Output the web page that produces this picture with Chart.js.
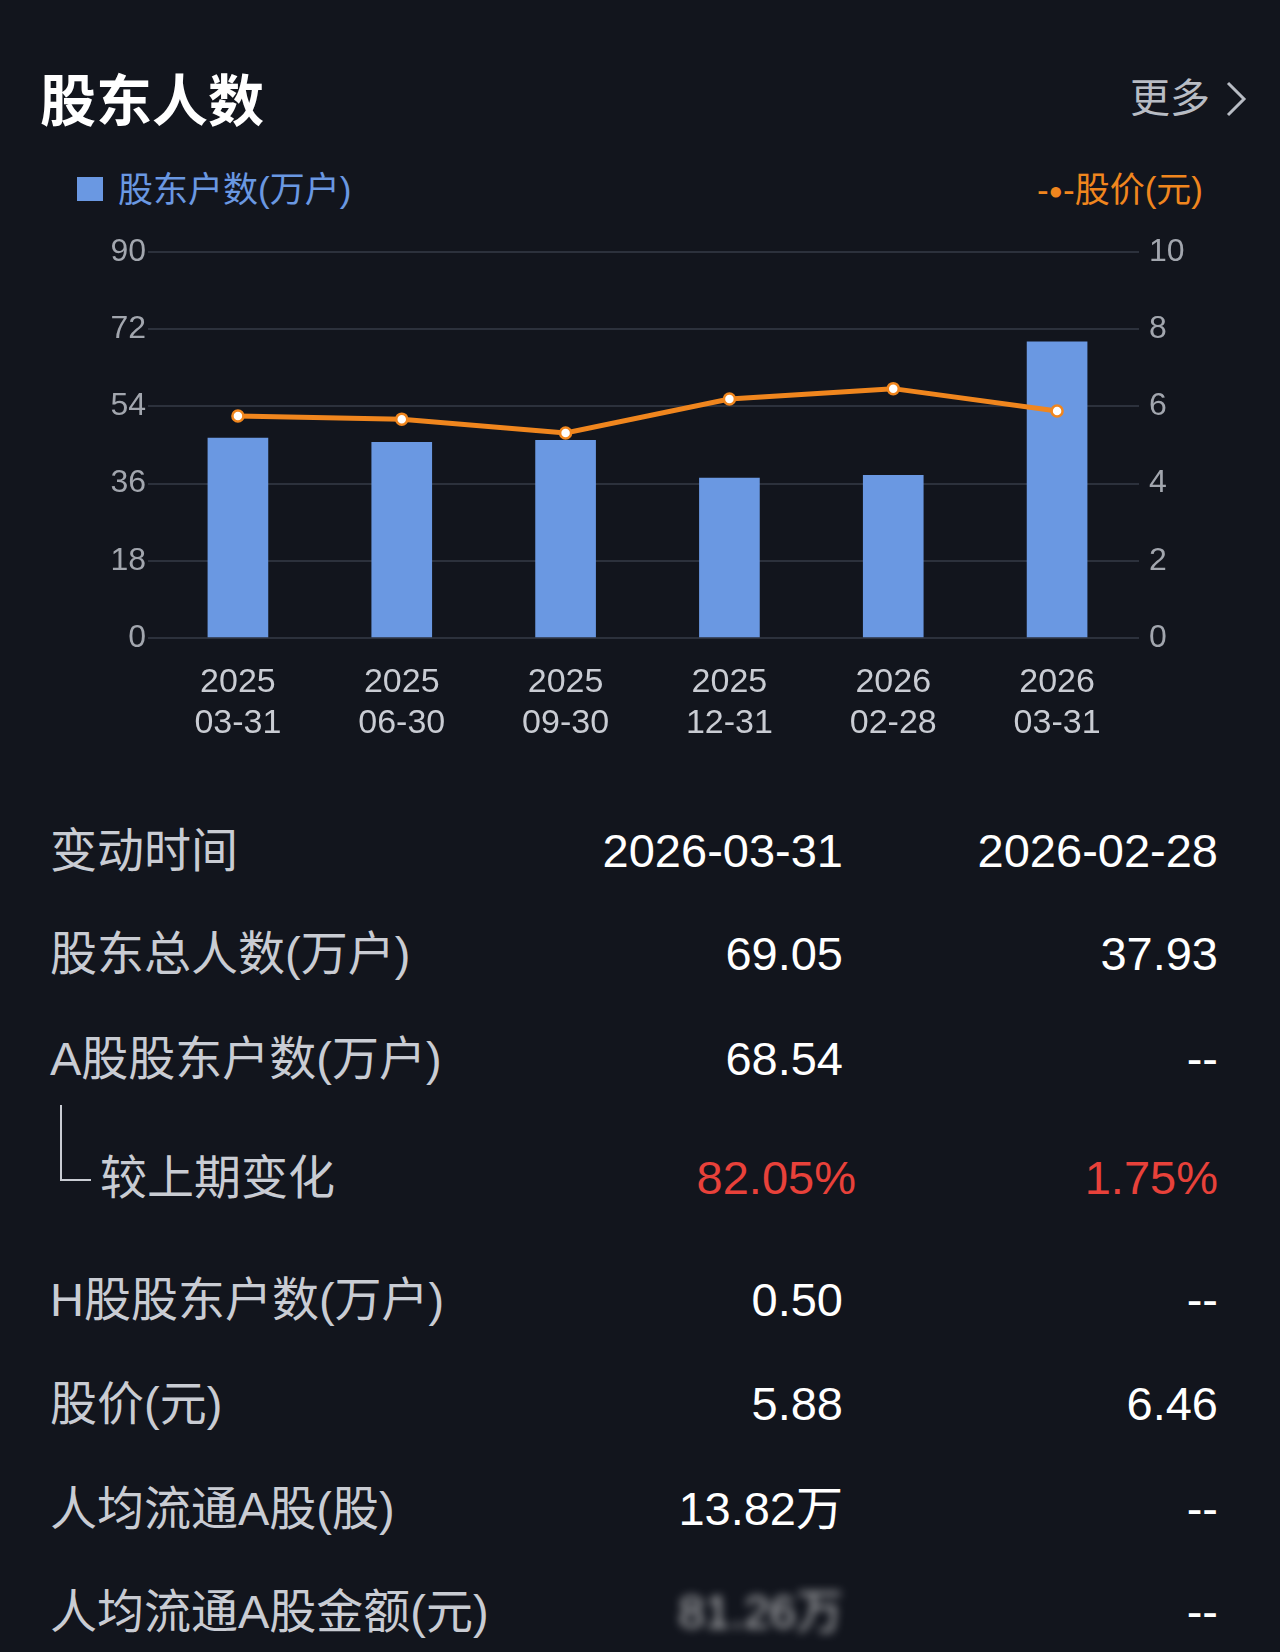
<!DOCTYPE html>
<html><head><meta charset="utf-8">
<script src="https://cdn.jsdelivr.net/npm/chart.js@4"></script>
<style>
body{margin:0;background:#12151d;width:1280px;height:1652px;overflow:hidden;font-family:"Liberation Sans","Noto Sans CJK SC",sans-serif;color:#fff;position:relative}
.t{position:absolute;white-space:nowrap}
.lab{left:50px;color:#c9ccd3;font-size:47px}
.v1{right:437px;font-size:47px;color:#fff;text-align:right}
.v2{right:62px;font-size:47px;color:#fff;text-align:right}
#wrap{position:absolute;left:0;top:230px;width:1280px;height:520px}
</style></head><body>
<div class="t" style="left:40px;top:58px;font-size:56px;font-weight:bold;line-height:78px;font-family:'Noto Sans CJK SC'">股东人数</div>
<div class="t" style="right:70px;top:70px;font-size:40px;color:#b8bcc4;line-height:56px">更多</div>
<svg class="t" style="left:1224px;top:80px" width="24" height="38"><polyline points="4,3 20,19 4,35" fill="none" stroke="#b8bcc4" stroke-width="3"/></svg>
<div class="t" style="left:77px;top:177px;width:26px;height:24px;background:#6a98e2"></div>
<div class="t" style="left:118px;top:166px;font-size:35px;color:#6a98e2;line-height:48px">股东户数(万户)</div>
<div class="t" style="right:77px;top:166px;font-size:35px;color:#f0861e;line-height:48px">-<span style="font-size:24px;vertical-align:3px">●</span>-股价(元)</div>
<div id="wrap"><canvas id="c"></canvas></div>
<div id="tbl"></div>
<svg class="t" style="left:55px;top:1105px" width="40" height="80"><polyline points="6,0 6,75 36,75" fill="none" stroke="#c9ccd3" stroke-width="2"/></svg>
<script>
const categories=[["2025","03-31"],["2025","06-30"],["2025","09-30"],["2025","12-31"],["2026","02-28"],["2026","03-31"]];
const holders=[46.6,45.6,46.1,37.3,37.93,69.05];
const price=[5.75,5.67,5.31,6.19,6.46,5.88];
const leftTicks=[0,18,36,54,72,90];
const rightTicks=[0,2,4,6,8,10];
const rows=[
 ["变动时间","2026-03-31","2026-02-28",""],
 ["股东总人数(万户)","69.05","37.93",""],
 ["A股股东户数(万户)","68.54","--",""],
 ["较上期变化","82.05%","1.75%","red"],
 ["H股股东户数(万户)","0.50","--",""],
 ["股价(元)","5.88","6.46",""],
 ["人均流通A股(股)","13.82万","--",""],
 ["人均流通A股金额(元)","81.26万","--","blur"]
];
const rowY=[851,954,1059,1178,1300,1404,1509,1612];
let h='';
rows.forEach((r,i)=>{
 const top=rowY[i]-33;
 const left=i==3?'left:100px;':'';
 h+=`<div class="t lab" style="${left}top:${top}px;line-height:66px">${r[0]}</div>`;
 const col=r[3]=='red'?'color:#e8413a;':'';
 const bl=r[3]=='blur'?'filter:blur(5px);opacity:.7;':'';
 const r1=r[3]=='red'?'right:424px;':'';
 h+=`<div class="t v1" style="${r1}${col}${bl}top:${top}px;line-height:66px">${r[1]}</div>`;
 h+=`<div class="t v2" style="${col}top:${top}px;line-height:66px">${r[2]}</div>`;
});
document.getElementById('tbl').innerHTML=h;
const F='Liberation Sans';
new Chart(document.getElementById('c'),{
 data:{labels:categories,datasets:[
  {type:'line',data:price,yAxisID:'y1',borderColor:'#f0861e',borderWidth:5,pointBackgroundColor:'#fff',pointBorderColor:'#f0861e',pointBorderWidth:2.5,pointRadius:5.5,tension:0,order:0},
  {type:'bar',data:holders,yAxisID:'y',backgroundColor:'#6a98e2',barThickness:60,order:1}
 ]},
 options:{responsive:true,maintainAspectRatio:false,animation:false,
  layout:{padding:{top:22,bottom:0,left:0,right:0}},
  plugins:{legend:{display:false},tooltip:{enabled:false}},
  scales:{
   x:{grid:{display:false},border:{display:false},ticks:{color:'#c9ccd3',font:{size:34,family:F},padding:16,maxRotation:0},afterFit(s){s.height=112;}},
   y:{position:'left',min:0,max:90,afterBuildTicks(s){s.ticks=leftTicks.map(v=>({value:v}));},grid:{color:'#2c313c',lineWidth:2},border:{display:false},ticks:{color:'#a2a6ae',font:{size:32,family:F},padding:2},afterFit(s){s.width=156;}},
   y1:{position:'right',min:0,max:10,afterBuildTicks(s){s.ticks=rightTicks.map(v=>({value:v}));},grid:{display:false},border:{display:false},ticks:{color:'#a2a6ae',font:{size:32,family:F},padding:2},afterFit(s){s.width=141;}}
  }}
});
</script></body></html>
